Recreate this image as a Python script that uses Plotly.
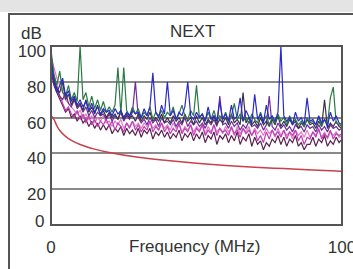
import plotly.graph_objects as go

freq = list(range(0, 101))

green = [98, 84, 78, 86, 74, 72, 78, 70, 74, 69,
         100, 70, 74, 66, 72, 65, 70, 64, 69, 63,
         66, 63, 67, 88, 62, 88, 64, 61, 66, 62,
         65, 60, 63, 61, 66, 59, 63, 61, 64, 60,
         63, 61, 66, 59, 62, 67, 61, 59, 64, 61,
         78, 60, 62, 58, 63, 59, 64, 58, 61, 59,
         63, 58, 61, 68, 59, 62, 58, 60, 57, 62,
         59, 57, 63, 58, 61, 56, 60, 57, 62, 58,
         60, 56, 61, 57, 59, 56, 58, 55, 60, 57,
         58, 56, 60, 55, 59, 56, 71, 77, 57, 56,
         55]
blue = [92, 80, 74, 78, 82, 72, 75, 69, 72, 67,
        70, 66, 69, 64, 68, 63, 66, 62, 65, 63,
        64, 61, 65, 62, 64, 60, 63, 61, 64, 62,
        63, 60, 65, 61, 66, 85, 63, 60, 67, 62,
        80, 61, 64, 59, 63, 61, 66, 80, 61, 59,
        63, 60, 62, 58, 66, 59, 61, 58, 69, 59,
        62, 58, 67, 59, 61, 71, 58, 64, 60, 57,
        73, 59, 62, 57, 67, 59, 61, 58, 63, 100,
        61, 58, 60, 56, 63, 58, 60, 56, 71, 58,
        59, 56, 61, 57, 59, 55, 63, 58, 61, 57,
        56]
dark = [95, 82, 76, 74, 80, 70, 73, 67, 71, 66,
        68, 64, 70, 63, 66, 62, 67, 61, 64, 60,
        63, 60, 62, 59, 64, 59, 62, 60, 61, 58,
        62, 58, 61, 59, 63, 58, 60, 58, 62, 57,
        60, 57, 61, 58, 60, 57, 62, 58, 60, 56,
        61, 57, 60, 56, 59, 57, 61, 56, 59, 57,
        60, 56, 62, 57, 59, 56, 74, 57, 60, 56,
        58, 55, 60, 56, 58, 55, 59, 56, 61, 55,
        58, 55, 59, 56, 58, 54, 57, 55, 59, 56,
        57, 54, 58, 55, 70, 54, 57, 55, 58, 55,
        54]
purple = [88, 80, 76, 72, 70, 74, 68, 66, 70, 65,
          67, 63, 66, 61, 64, 60, 63, 61, 62, 59,
          62, 58, 61, 59, 63, 58, 61, 59, 63, 80,
          60, 57, 59, 56, 60, 57, 59, 55, 60, 57,
          58, 56, 59, 55, 58, 56, 60, 55, 58, 56,
          58, 55, 57, 54, 58, 56, 59, 55, 72, 56,
          57, 54, 58, 55, 57, 53, 56, 54, 58, 55,
          56, 54, 57, 53, 56, 72, 55, 53, 57, 54,
          56, 53, 55, 52, 56, 54, 55, 52, 56, 54,
          55, 52, 56, 53, 55, 52, 56, 54, 55, 53,
          54]
magenta = [90, 84, 78, 72, 68, 64, 66, 62, 60, 64,
           59, 62, 57, 61, 56, 59, 55, 58, 56, 59,
           55, 58, 53, 57, 55, 52, 57, 54, 58, 53,
           56, 52, 55, 53, 58, 52, 55, 53, 57, 52,
           55, 51, 54, 52, 57, 51, 54, 52, 56, 50,
           54, 52, 56, 50, 53, 51, 56, 50, 54, 52,
           53, 50, 55, 51, 53, 49, 54, 51, 53, 50,
           53, 47, 50, 46, 52, 48, 53, 50, 52, 49,
           53, 48, 52, 50, 53, 47, 50, 45, 49, 48,
           52, 49, 54, 48, 51, 49, 53, 48, 51, 50,
           51]
plum = [86, 78, 74, 70, 66, 63, 65, 60, 62, 58,
        61, 57, 59, 55, 58, 54, 57, 53, 56, 53,
        56, 51, 54, 52, 55, 50, 54, 51, 53, 50,
        54, 49, 53, 51, 54, 48, 52, 50, 53, 49,
        52, 48, 51, 49, 53, 47, 51, 49, 52, 47,
        51, 48, 52, 46, 50, 48, 52, 45, 50, 48,
        51, 46, 50, 47, 52, 45, 49, 47, 51, 44,
        49, 45, 47, 42, 46, 44, 48, 46, 50, 45,
        49, 44, 48, 46, 50, 44, 46, 42, 45, 45,
        49, 44, 48, 46, 50, 44, 47, 45, 49, 46,
        48]
pink = [94, 88, 82, 78, 74, 70, 68, 66, 64, 62,
        64, 60, 62, 59, 61, 57, 60, 58, 61, 57,
        58, 55, 58, 56, 59, 54, 57, 55, 58, 55,
        57, 54, 57, 55, 58, 54, 56, 53, 57, 54,
        56, 53, 57, 54, 56, 52, 55, 53, 56, 52,
        55, 53, 56, 51, 55, 52, 56, 52, 54, 51,
        55, 52, 54, 50, 55, 51, 54, 52, 55, 50,
        54, 51, 53, 50, 54, 51, 53, 49, 54, 50,
        53, 50, 52, 48, 53, 50, 52, 49, 53, 49,
        52, 50, 53, 49, 52, 48, 52, 50, 52, 49,
        50]

limit_freq = [0, 1, 2, 3, 5, 7, 10, 15, 20, 30, 40, 50, 60, 70, 80, 90, 100]
limit_db = [61, 59, 55.5, 52.8, 49.5, 47.3, 45, 42.4, 40.5, 37.8, 36, 34.5, 33.3, 32.3, 31.5, 30.7, 30]

y_ticks = [20, 40, 60, 80, 100]
x_ticks = [0, 100]

series = [
    (pink, "#e07ac6"),
    (plum, "#5c2050"),
    (magenta, "#c23cb6"),
    (purple, "#6c2c9c"),
    (dark, "#3a3048"),
    (green, "#2a7a44"),
    (blue, "#2a2ac8"),
]

fig = go.Figure()
for vals, col in series:
    fig.add_trace(go.Scatter(x=freq, y=vals, mode="lines",
                             line=dict(color=col, width=1.2), showlegend=False))
fig.add_trace(go.Scatter(x=limit_freq, y=limit_db, mode="lines",
                         line=dict(color="#c8404a", width=1.5, shape="spline"),
                         showlegend=False))

FONT = "Liberation Sans, Arial, sans-serif"
L, R, T, B = 51, 11, 46, 44
W, H = 353, 269
PW, PH = W - L - R, H - T - B


def px(x):
    return (x - L) / PW


def py(y):
    return (H - B - y) / PH


def label(text, x, y, xanchor="center"):
    return dict(text=text, xref="paper", yref="paper", x=px(x), y=py(y),
                xanchor=xanchor, yanchor="middle", showarrow=False,
                font=dict(size=17, color="#333"))


fig.update_layout(
    width=W, height=H,
    margin=dict(l=L, r=R, t=T, b=B, pad=0, autoexpand=False),
    paper_bgcolor="white", plot_bgcolor="white",
    font=dict(family=FONT, size=17, color="#333"),
    xaxis=dict(range=[0, 100], tickvals=x_ticks, ticktext=[str(v) for v in x_ticks],
               showgrid=False, zeroline=False, showline=False, ticks="",
               tickfont=dict(size=17, color="#333"), ticklabelstandoff=10,
               ticklabeloverflow="allow", automargin=False),
    yaxis=dict(range=[0, 100], tickvals=y_ticks, ticktext=[str(v) for v in y_ticks],
               showgrid=True, gridcolor="#8a8a8a", gridwidth=1.5,
               zeroline=False, showline=False, ticks="",
               tickfont=dict(size=17, color="#333"), ticklabelshift=5,
               ticklabelstandoff=4, automargin=False),
    shapes=[
        dict(type="rect", xref="paper", yref="paper", x0=px(-5), x1=px(W + 5),
             y0=py(12), y1=py(-5), fillcolor="#e4e4e4", line=dict(width=0), layer="below"),
        dict(type="rect", xref="paper", yref="paper", x0=px(9), x1=px(W + 20),
             y0=py(H + 20), y1=py(14), line=dict(color="#555", width=2), fillcolor="rgba(0,0,0,0)"),
        dict(type="rect", xref="paper", yref="paper", x0=0, x1=1, y0=0, y1=1,
             line=dict(color="#555", width=2)),
    ],
    annotations=[
        label("NEXT", 192, 32),
        label("dB", 31, 33),
        label("0", 46, 221, xanchor="right"),
        label("Frequency (MHz)", 194, 246),
    ],
)

fig.write_html("out.html", config={"displayModeBar": False},
               post_script="document.body.style.margin='0';document.body.style.overflow='hidden';")
